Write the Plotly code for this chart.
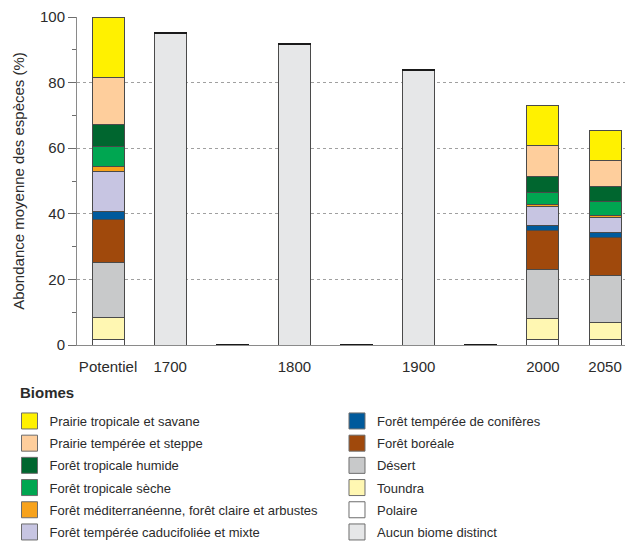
import plotly.graph_objects as go

# ---- data ----
categories = ["Potentiel", "1700", "1750", "1800", "1850", "1900", "1950", "2000", "2050"]
tick_labels = ["Potentiel", "1700", "", "1800", "", "1900", "", "2000", "2050"]

# values (%) per biome, in stacking order from bottom to top
polaire        = [1.7, None, None, None, None, None, None, 1.7, 1.7]
toundra        = [6.8, None, None, None, None, None, None, 6.3, 5.1]
desert         = [16.6, None, None, None, None, None, None, 15.1, 14.4]
boreale        = [13.2, None, None, None, None, None, None, 11.9, 11.7]
coniferes      = [2.4, None, None, None, None, None, None, 1.5, 1.4]
caducifoliee   = [12.3, None, None, None, None, None, None, 5.7, 4.6]
mediterraneenne= [1.3, None, None, None, None, None, None, 0.7, 0.6]
trop_seche     = [6.1, None, None, None, None, None, None, 3.6, 4.4]
trop_humide    = [6.9, None, None, None, None, None, None, 5.0, 4.3]
prairie_temp   = [14.2, None, None, None, None, None, None, 9.4, 8.0]
prairie_trop   = [18.5, None, None, None, None, None, None, 12.1, 9.3]
aucun          = [None, 95.1, None, 91.6, None, 83.6, None, None, None]
autres         = [None, 0.3, 0.3, 0.3, 0.3, 0.3, 0.3, None, None]

series = [
    ("Polaire", polaire, "#FFFFFF"),
    ("Toundra", toundra, "#FFF7B2"),
    ("Désert", desert, "#C8C9CA"),
    ("Forêt boréale", boreale, "#A0490C"),
    ("Forêt tempérée de conifères", coniferes, "#005A9C"),
    ("Forêt tempérée caducifoliée et mixte", caducifoliee, "#C7C5E2"),
    ("Forêt méditerranéenne, forêt claire et arbustes", mediterraneenne, "#F7A21B"),
    ("Forêt tropicale sèche", trop_seche, "#00A651"),
    ("Forêt tropicale humide", trop_humide, "#00662F"),
    ("Prairie tempérée et steppe", prairie_temp, "#FECE9C"),
    ("Prairie tropicale et savane", prairie_trop, "#FFF100"),
    ("Aucun biome distinct", aucun, "#E6E7E8"),
]
colors = {name: c for name, _, c in series}

legend_col1 = ["Prairie tropicale et savane", "Prairie tempérée et steppe",
               "Forêt tropicale humide", "Forêt tropicale sèche",
               "Forêt méditerranéenne, forêt claire et arbustes",
               "Forêt tempérée caducifoliée et mixte"]
legend_col2 = ["Forêt tempérée de conifères", "Forêt boréale", "Désert",
               "Toundra", "Polaire", "Aucun biome distinct"]

FONT = "Liberation Sans Narrow, Arial Narrow, Liberation Sans, Arial, sans-serif"
TXT = "#2b2b2b"
OUTLINE = "#4a4a4a"

fig = go.Figure()
for name, vals, col in series:
    fig.add_trace(go.Bar(
        x=categories, y=vals, name=name, legendgroup=name, showlegend=False,
        marker=dict(color=col, line=dict(color=OUTLINE, width=1)),
        hovertemplate="%{x}: %{y}%<extra>" + name + "</extra>",
    ))
fig.add_trace(go.Bar(
    x=categories, y=autres, name="autres", showlegend=False, hoverinfo="skip",
    marker=dict(color="#1a1a1a", line=dict(color="#1a1a1a", width=1)),
))

# legend proxies (larger square swatches)
for leg, names in (("legend", legend_col1), ("legend2", legend_col2)):
    for name in names:
        fig.add_trace(go.Scatter(
            x=[None], y=[None], mode="markers", name=name, legendgroup=name,
            legend=leg, showlegend=True,
            marker=dict(symbol="square", size=16, color=colors[name],
                        line=dict(color="#6d6d6d", width=1)),
        ))

legend_common = dict(
    font=dict(family=FONT, size=13, color=TXT),
    traceorder="grouped", tracegroupgap=2.3, itemsizing="trace",
    bgcolor="rgba(0,0,0,0)", xanchor="left", yanchor="top",
    orientation="v",
)

# the page body adds an 8px offset; the figure is sized to fill the rest
fig.update_layout(
    width=625, height=534,
    margin=dict(l=69, r=0, t=9, b=197, autoexpand=False),
    paper_bgcolor="white", plot_bgcolor="white",
    barmode="stack", bargap=0.485,
    font=dict(family=FONT, size=14, color=TXT),
    showlegend=True,
    legend=dict(x=-0.1214, y=-0.186, **legend_common),
    legend2=dict(x=0.4676, y=-0.186, **legend_common),
    xaxis=dict(
        type="category", categoryorder="array", categoryarray=categories,
        range=[-0.5, 8.45], automargin=False,
        tickmode="array", tickvals=categories, ticktext=tick_labels,
        ticks="", showgrid=False, showline=True, linecolor="#8a8a8a", linewidth=1,
        tickfont=dict(family=FONT, size=15, color=TXT),
        ticklabelstandoff=8,
        zeroline=False,
    ),
    yaxis=dict(
        range=[0, 100], tickmode="array", tickvals=[0, 20, 40, 60, 80, 100],
        automargin=False,
        ticks="outside", ticklen=8, tickcolor="#6d6d6d", tickwidth=1,
        showline=True, linecolor="#8a8a8a", linewidth=1,
        showgrid=True, gridcolor="#a0a0a0", griddash="dot", gridwidth=1,
        zeroline=False,
        minor=dict(tickvals=[10, 30, 50, 70, 90], ticks="outside", ticklen=4,
                   tickcolor="#6d6d6d", showgrid=False),
        tickfont=dict(family=FONT, size=15, color=TXT),
        title=dict(text="Abondance moyenne des espèces (%)",
                   font=dict(family=FONT, size=15, color=TXT), standoff=11),
    ),
    annotations=[dict(
        text="<b>Biomes</b>", xref="paper", yref="paper",
        x=(18 - 77) / 556, y=(345 - 393) / 328, xanchor="left", yanchor="middle",
        showarrow=False, font=dict(family=FONT, size=15, color=TXT),
    )],
)

fig.write_html("out.html")
